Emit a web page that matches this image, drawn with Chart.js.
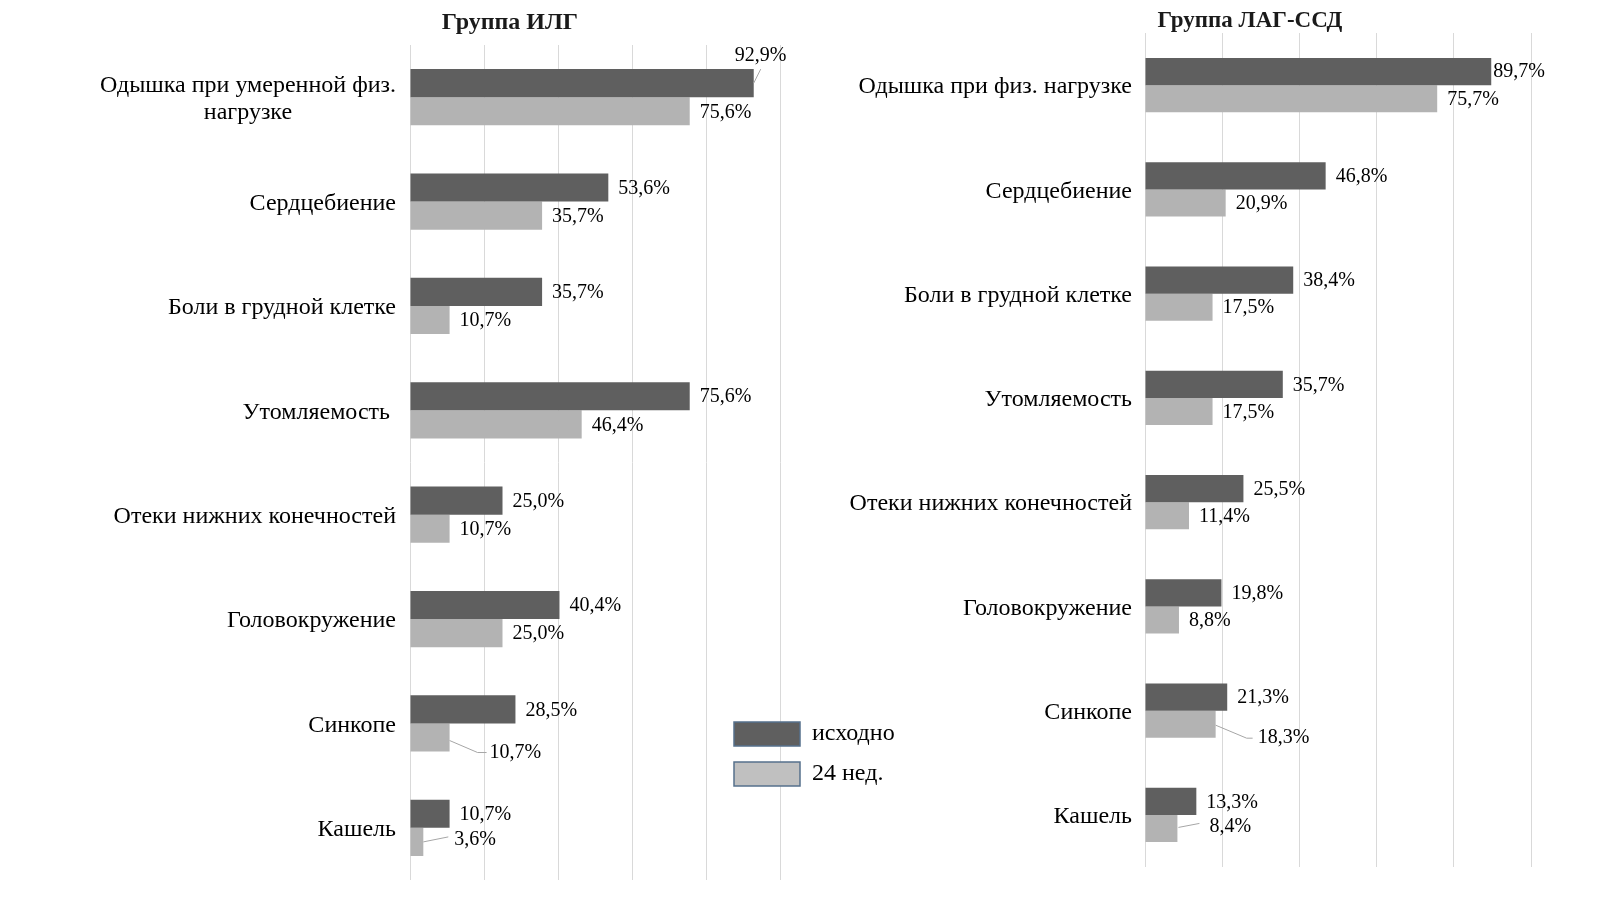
<!DOCTYPE html>
<html>
<head>
<meta charset="utf-8">
<script src="https://cdn.jsdelivr.net/npm/chart.js@4/dist/chart.umd.min.js"></script>
<style>
  html, body { margin: 0; padding: 0; background: #fff; }
  body { width: 1600px; height: 900px; position: relative; overflow: hidden; }
  .box { position: absolute; top: 0; height: 900px; }
  #leftBox { left: 0; width: 900px; }
  #rightBox { left: 800px; width: 800px; }
</style>
</head>
<body>
<div class="box" id="leftBox"><canvas id="leftChart"></canvas></div>
<div class="box" id="rightBox"><canvas id="rightChart"></canvas></div>
<script>
// ---------- DATA ----------
const seriesNames = ['исходно', '24 нед.'];

const ilgTitle = 'Группа ИЛГ';
const ilgCategories = [
  ['Одышка при умеренной физ.', 'нагрузке'],
  'Сердцебиение',
  'Боли в грудной клетке',
  'Утомляемость ',
  'Отеки нижних конечностей',
  'Головокружение',
  'Синкопе',
  'Кашель'
];
const ilgBaseline = [92.9, 53.6, 35.7, 75.6, 25.0, 40.4, 28.5, 10.7];
const ilgWeek24   = [75.6, 35.7, 10.7, 46.4, 10.7, 25.0, 10.7, 3.6];

const lagTitle = 'Группа ЛАГ-ССД';
const lagCategories = [
  'Одышка при физ. нагрузке',
  'Сердцебиение',
  'Боли в грудной клетке',
  'Утомляемость',
  'Отеки нижних конечностей',
  'Головокружение',
  'Синкопе',
  'Кашель'
];
const lagBaseline = [89.7, 46.8, 38.4, 35.7, 25.5, 19.8, 21.3, 13.3];
const lagWeek24   = [75.7, 20.9, 17.5, 17.5, 11.4, 8.8, 18.3, 8.4];

const xTickValues = [0, 20, 40, 60, 80, 100];

// ---------- STYLE ----------
const SERIF = "'Liberation Serif', 'Times New Roman', serif";
const DARK = '#5f5f5f';
const LIGHT = '#b3b3b3';

function fmt(v) { return v.toFixed(1).replace('.', ',') + '%'; }

// custom plugin: title, category labels, value labels with callouts, legend
const drawPlugin = {
  id: 'drawPlugin',
  afterDatasetsDraw(chart, args, opts) {
    const ctx = chart.ctx;
    const yScale = chart.scales.y;
    ctx.save();
    // title
    ctx.fillStyle = '#1a1a1a';
    ctx.font = 'bold ' + opts.titleSize + 'px ' + SERIF;
    ctx.textAlign = 'center';
    ctx.textBaseline = 'middle';
    ctx.fillText(opts.title, opts.titleX, opts.titleY);

    // category labels
    ctx.fillStyle = '#000';
    ctx.font = opts.catSize + 'px ' + SERIF;
    ctx.textBaseline = 'middle';
    chart.data.labels.forEach((lab, i) => {
      const yc = yScale.getPixelForTick(i) + opts.catShift;
      const lines = Array.isArray(lab) ? lab : [lab];
      const widths = lines.map(l => ctx.measureText(l).width);
      const maxW = Math.max(...widths);
      const centerX = opts.catRight - maxW / 2;
      const lh = opts.catLineHeight;
      lines.forEach((l, k) => {
        const y = yc + (k - (lines.length - 1) / 2) * lh;
        if (lines.length > 1) { ctx.textAlign = 'center'; ctx.fillText(l, centerX, y); }
        else { ctx.textAlign = 'right'; ctx.fillText(l, opts.catRight, y); }
      });
    });

    // value labels
    ctx.font = opts.valSize + 'px ' + SERIF;
    ctx.textAlign = 'left';
    chart.data.datasets.forEach((ds, di) => {
      const meta = chart.getDatasetMeta(di);
      meta.data.forEach((el, i) => {
        const key = di + ':' + i;
        const c = opts.callouts[key];
        const bx = el.x, by = el.y;
        let dx = opts.valOffset, dy = 1;
        if (c) {
          dx = c.dx; dy = c.dy;
          if (c.leader) {
            ctx.strokeStyle = '#a6a6a6';
            ctx.lineWidth = 1;
            ctx.beginPath();
            c.leader.forEach((p, k) => {
              if (k === 0) ctx.moveTo(bx + p[0], by + p[1]);
              else ctx.lineTo(bx + p[0], by + p[1]);
            });
            ctx.stroke();
          }
        }
        ctx.fillStyle = '#000';
        ctx.fillText(fmt(ds.data[i]), bx + dx, by + dy);
      });
    });

    // legend
    if (opts.legend) {
      const L = opts.legend;
      chart.data.datasets.forEach((ds, di) => {
        const y = L.y + di * L.gap;
        ctx.fillStyle = L.fills[di];
        ctx.fillRect(L.x, y, L.w, L.h);
        ctx.strokeStyle = '#56708c';
        ctx.lineWidth = 1.5;
        ctx.strokeRect(L.x, y, L.w, L.h);
        ctx.fillStyle = '#000';
        ctx.font = L.size + 'px ' + SERIF;
        ctx.textAlign = 'left';
        ctx.textBaseline = 'middle';
        ctx.fillText(ds.label, L.x + L.w + 12, y + L.h / 2);
      });
    }
    ctx.restore();
  }
};

function makeChart(canvasId, labels, base, w24, cfg) {
  return new Chart(document.getElementById(canvasId), {
    type: 'bar',
    data: {
      labels: labels,
      datasets: [
        { label: seriesNames[0], data: base, backgroundColor: DARK, borderWidth: 0 },
        { label: seriesNames[1], data: w24, backgroundColor: LIGHT, borderWidth: 0 }
      ]
    },
    options: {
      indexAxis: 'y',
      responsive: true,
      maintainAspectRatio: false,
      animation: false,
      layout: { padding: cfg.padding },
      datasets: { bar: { barPercentage: 1.0, categoryPercentage: cfg.catPct } },
      scales: {
        x: {
          min: 0, max: 100,
          afterBuildTicks: (s) => { s.ticks = xTickValues.map(v => ({ value: v })); },
          ticks: { display: false },
          grid: { color: '#d9d9d9', lineWidth: 1, drawTicks: false },
          border: { display: false },
          afterFit: (s) => { s.height = 0; }
        },
        y: {
          ticks: { display: false },
          grid: { display: false, drawTicks: false },
          border: { display: false },
          afterFit: (s) => { s.width = cfg.yWidth; }
        }
      },
      plugins: {
        legend: { display: false },
        tooltip: { enabled: false },
        title: { display: false },
        drawPlugin: cfg.draw
      }
    },
    plugins: [drawPlugin]
  });
}

makeChart('leftChart', ilgCategories, ilgBaseline, ilgWeek24, {
  padding: { left: 0, right: 120, top: 45, bottom: 20 },
  yWidth: 410,
  catPct: 0.54,
  draw: {
    title: ilgTitle, titleX: 510, titleY: 23, titleSize: 24,
    catSize: 24, catRight: 396, catShift: 2, catLineHeight: 27,
    valSize: 20, valOffset: 10,
    callouts: {
      '0:0': { dx: -19, dy: -27, leader: [[0, 0], [7, -14]] },
      '1:6': { dx: 40, dy: 15, leader: [[0, 3], [28, 15], [37, 15]] },
      '1:7': { dx: 31, dy: -2, leader: [[0, 0], [25, -5]] }
    },
    legend: { x: 734, y: 722, w: 66, h: 24, gap: 40, size: 24, fills: ['#5f5f5f', '#c0c0c0'] }
  }
});

makeChart('rightChart', lagCategories, lagBaseline, lagWeek24, {
  padding: { left: 0, right: 69, top: 33, bottom: 33 },
  yWidth: 345,
  catPct: 0.52,
  draw: {
    title: lagTitle, titleX: 450, titleY: 21, titleSize: 23,
    catSize: 24, catRight: 332, catShift: 2, catLineHeight: 27,
    valSize: 20, valOffset: 10,
    callouts: {
      '0:0': { dx: 2, dy: 0 },
      '1:6': { dx: 42, dy: 14, leader: [[0, 1], [31, 14], [37, 14]] },
      '1:7': { dx: 32, dy: -2, leader: [[1, -1], [22, -5]] }
    },
    legend: null
  }
});
</script>
</body>
</html>
